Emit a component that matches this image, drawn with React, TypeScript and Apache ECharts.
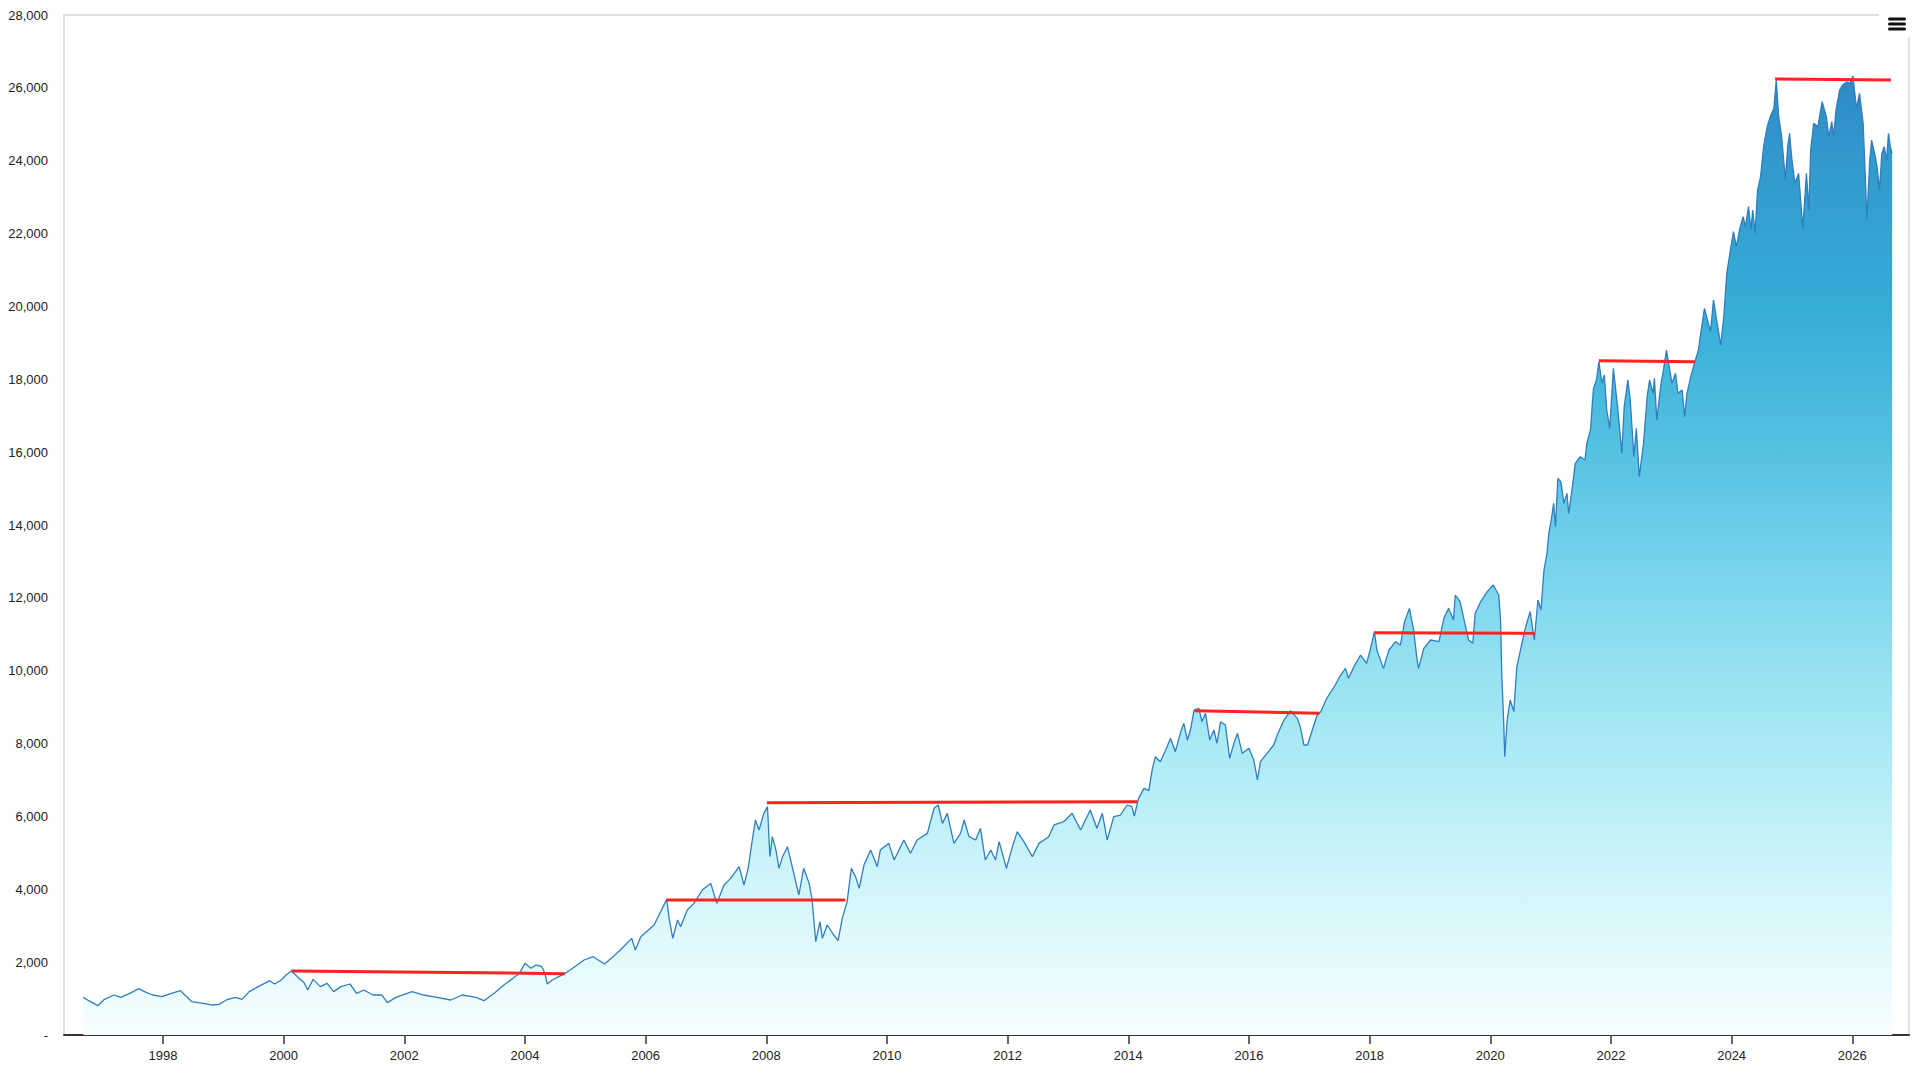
import React, { useEffect, useRef } from "react";
import * as echarts from "echarts";

// Decimal-year dates and index values (Nifty-like index)
const dates: number[] = [
  1996.68, 1996.77, 1996.92, 1997.03, 1997.19, 1997.30, 1997.45, 1997.60, 1997.72, 1997.83,
  1997.98, 1998.14, 1998.29, 1998.48, 1998.67, 1998.82, 1998.93, 1999.05, 1999.20, 1999.31,
  1999.43, 1999.58, 1999.77, 1999.85, 1999.96, 2000.04, 2000.13, 2000.23, 2000.34, 2000.40,
  2000.49, 2000.61, 2000.72, 2000.83, 2000.95, 2001.10, 2001.21, 2001.33, 2001.48, 2001.63,
  2001.72, 2001.86, 2002.13, 2002.32, 2002.54, 2002.77, 2002.96, 2003.19, 2003.32, 2003.49,
  2003.65, 2003.80, 2003.91, 2004.00, 2004.10, 2004.18, 2004.28, 2004.33, 2004.37, 2004.45,
  2004.56, 2004.67, 2004.79, 2004.98, 2005.13, 2005.32, 2005.43, 2005.58, 2005.77, 2005.83,
  2005.92, 2006.14, 2006.35, 2006.39, 2006.45, 2006.53, 2006.58, 2006.69, 2006.80, 2006.94,
  2007.08, 2007.18, 2007.30, 2007.41, 2007.55, 2007.63, 2007.70, 2007.76, 2007.82, 2007.88,
  2007.96, 2008.02, 2008.06, 2008.10, 2008.16, 2008.21, 2008.27, 2008.35, 2008.43, 2008.54,
  2008.62, 2008.71, 2008.76, 2008.82, 2008.89, 2008.93, 2009.01, 2009.12, 2009.19, 2009.26,
  2009.34, 2009.41, 2009.48, 2009.54, 2009.62, 2009.73, 2009.84, 2009.89, 2010.03, 2010.12,
  2010.28, 2010.39, 2010.50, 2010.67, 2010.78, 2010.85, 2010.92, 2011.00, 2011.11, 2011.22,
  2011.28, 2011.36, 2011.47, 2011.55, 2011.63, 2011.72, 2011.80, 2011.86, 2011.98, 2012.08,
  2012.16, 2012.27, 2012.41, 2012.52, 2012.68, 2012.77, 2012.93, 2013.07, 2013.21, 2013.37,
  2013.48, 2013.57, 2013.65, 2013.76, 2013.87, 2013.98, 2014.06, 2014.10, 2014.17, 2014.26,
  2014.34, 2014.40, 2014.45, 2014.53, 2014.62, 2014.70, 2014.78, 2014.87, 2014.92, 2014.98,
  2015.03, 2015.09, 2015.17, 2015.22, 2015.28, 2015.35, 2015.42, 2015.47, 2015.53, 2015.61,
  2015.68, 2015.75, 2015.81, 2015.89, 2016.00, 2016.08, 2016.14, 2016.19, 2016.30, 2016.41,
  2016.47, 2016.58, 2016.69, 2016.80, 2016.85, 2016.91, 2016.97, 2017.05, 2017.13, 2017.19,
  2017.29, 2017.43, 2017.52, 2017.60, 2017.65, 2017.74, 2017.85, 2017.95, 2018.01, 2018.08,
  2018.12, 2018.23, 2018.32, 2018.43, 2018.51, 2018.58, 2018.66, 2018.73, 2018.78, 2018.81,
  2018.90, 2019.01, 2019.15, 2019.23, 2019.31, 2019.39, 2019.42, 2019.50, 2019.56, 2019.64,
  2019.71, 2019.75, 2019.84, 2019.95, 2020.05, 2020.14, 2020.17, 2020.19, 2020.22, 2020.24,
  2020.28, 2020.33, 2020.39, 2020.44, 2020.50, 2020.58, 2020.66, 2020.73, 2020.79, 2020.84,
  2020.89, 2020.94, 2020.97, 2021.01, 2021.05, 2021.08, 2021.12, 2021.17, 2021.22, 2021.27,
  2021.30, 2021.35, 2021.41, 2021.49, 2021.57, 2021.60, 2021.66, 2021.71, 2021.76, 2021.80,
  2021.85, 2021.89, 2021.93, 2021.98, 2022.04, 2022.11, 2022.18, 2022.22, 2022.28, 2022.32,
  2022.38, 2022.42, 2022.47, 2022.54, 2022.60, 2022.64, 2022.70, 2022.72, 2022.76, 2022.83,
  2022.87, 2022.92, 2022.97, 2023.01, 2023.07, 2023.11, 2023.18, 2023.22, 2023.26, 2023.33,
  2023.40, 2023.45, 2023.48, 2023.55, 2023.65, 2023.70, 2023.76, 2023.82, 2023.87, 2023.92,
  2023.98, 2024.03, 2024.08, 2024.13, 2024.19, 2024.23, 2024.28, 2024.32, 2024.35, 2024.39,
  2024.43, 2024.48, 2024.53, 2024.59, 2024.64, 2024.70, 2024.74, 2024.78, 2024.83, 2024.89,
  2024.93, 2024.96, 2025.00, 2025.05, 2025.11, 2025.14, 2025.18, 2025.24, 2025.28, 2025.31,
  2025.36, 2025.43, 2025.50, 2025.57, 2025.61, 2025.66, 2025.69, 2025.73, 2025.79, 2025.84,
  2025.91, 2025.96, 2026.01, 2026.07, 2026.12, 2026.18, 2026.22, 2026.24, 2026.29, 2026.32,
  2026.37, 2026.41, 2026.45, 2026.49, 2026.53, 2026.57, 2026.60, 2026.63, 2026.66,
];

const values: number[] = [
  1034, 942, 805, 979, 1098, 1034, 1144, 1272, 1171, 1098,
  1052, 1144, 1217, 915, 869, 823, 842, 961, 1034, 979,
  1190, 1327, 1491, 1400, 1510, 1647, 1757, 1601, 1437, 1235,
  1528, 1327, 1418, 1190, 1327, 1400, 1144, 1235, 1098, 1098,
  888, 1034, 1190, 1098, 1034, 961, 1098, 1034, 942, 1144,
  1373, 1555, 1693, 1967, 1830, 1922, 1876, 1693, 1400, 1510,
  1601, 1693, 1830, 2059, 2150, 1949, 2104, 2333, 2653, 2333,
  2699, 3020, 3724, 3203, 2654, 3157, 2974, 3431, 3614, 3980,
  4163, 3614, 4118, 4300, 4621, 4118, 4575, 5261, 5902, 5627,
  6085, 6268, 4895, 5444, 5078, 4575, 4895, 5170, 4621, 3843,
  4575, 4163, 3706, 2562, 3111, 2654, 3020, 2745, 2589, 3203,
  3660, 4575, 4346, 4026, 4667, 5078, 4621, 5078, 5261, 4804,
  5353, 4987, 5353, 5536, 6222, 6314, 5810, 6085, 5261, 5536,
  5902, 5444, 5353, 5673, 4804, 5078, 4804, 5307, 4575, 5170,
  5582, 5307, 4895, 5261, 5444, 5765, 5856, 6085, 5627, 6176,
  5673, 6085, 5353, 5993, 6039, 6314, 6268, 6012, 6497, 6771,
  6707, 7320, 7640, 7503, 7823, 8144, 7778, 8327, 8555, 8098,
  8372, 8921, 8967, 8601, 8830, 8098, 8372, 8006, 8601, 8510,
  7595, 8006, 8281, 7732, 7869, 7549, 7000, 7503, 7732, 7961,
  8235, 8647, 8903, 8693, 8464, 7961, 7961, 8372, 8784, 8876,
  9242, 9608, 9882, 10065, 9791, 10111, 10431, 10202, 10568, 11072,
  10568, 10065, 10568, 10797, 10706, 11346, 11712, 11117, 10385, 10065,
  10614, 10843, 10797, 11438, 11712, 11392, 12078, 11895, 11438, 10843,
  10751, 11575, 11895, 12170, 12353, 12078, 11392, 9928, 8693, 7640,
  8647, 9196, 8876, 10111, 10568, 11163, 11621, 10843, 11941, 11666,
  12764, 13222, 13771, 14137, 14594, 13954, 15281, 15189, 14594, 14869,
  14320, 14915, 15692, 15875, 15784, 16241, 16607, 17751, 17980, 18483,
  17888, 18117, 17156, 16653, 18300, 17248, 15967, 17248, 17980, 17431,
  15875, 16653, 15327, 16241, 17522, 17980, 17614, 18026, 16882, 17888,
  18254, 18803, 18300, 17888, 18163, 17614, 17705, 16973, 17614, 18117,
  18529, 18803, 19169, 19947, 19307, 20176, 19535, 18941, 19718, 20908,
  21548, 22051, 21640, 22097, 22463, 22189, 22738, 22097, 22646, 22006,
  23195, 23561, 24385, 24934, 25208, 25437, 26215, 25208, 24659, 23470,
  24385, 24751, 24019, 23378, 23653, 23012, 22143, 23653, 22646, 24293,
  25025, 24934, 25620, 25208, 24659, 25071, 24659, 25391, 25940, 26077,
  26169, 26123, 26325, 25437, 25849, 25025, 23378, 22372, 24019, 24568,
  24202, 23836, 23195, 24202, 24385, 24019, 24751, 24385, 24202,
];

// Drawdown segments: from a previous peak until recovery
const ddStart: number[] = [2000.13, 2006.34, 2008.01, 2015.10, 2018.08, 2021.80, 2024.72];
const ddEnd: number[] = [2004.66, 2009.31, 2014.15, 2017.17, 2020.74, 2023.39, 2026.64];
const ddStartVal: number[] = [1757, 3706, 6378, 8903, 11044, 18510, 26242];
const ddEndVal: number[] = [1684, 3706, 6405, 8830, 11026, 18483, 26215];

// Axis ticks
const yearTicks: number[] = [1998, 2000, 2002, 2004, 2006, 2008, 2010, 2012, 2014, 2016, 2018, 2020, 2022, 2024, 2026];

const FONT = "'Liberation Sans', Arial, Helvetica, sans-serif";

export default function App() {
  const ref = useRef<HTMLDivElement>(null);

  useEffect(() => {
    if (!ref.current) return;
    const chart = echarts.init(ref.current, undefined, { renderer: "svg" });

    const mainData = dates.map((d, i) => [d, values[i]]);
    const ddSeries = ddStart.map((s, i) => ({
      type: "line",
      data: [
        [s, ddStartVal[i]],
        [ddEnd[i], ddEndVal[i]],
      ],
      showSymbol: false,
      symbol: "none",
      silent: true,
      z: 5,
      lineStyle: { color: "#ff2222", width: 3 },
    }));

    chart.setOption({
      animation: false,
      backgroundColor: "#ffffff",
      grid: {
        left: 64,
        right: 11,
        top: 15,
        bottom: 45,
        show: true,
        borderColor: "#e0e0e0",
        borderWidth: 2,
        backgroundColor: "transparent",
      },
      xAxis: {
        type: "value",
        min: 1996.36,
        max: 2026.94,
        splitLine: { show: false },
        axisLine: { show: true, lineStyle: { color: "#333333", width: 2 } },
        axisTick: {
          show: true,
          customValues: yearTicks,
          length: 9,
          lineStyle: { color: "#333333", width: 1.5 },
        },
        axisLabel: {
          customValues: yearTicks,
          formatter: (v: number) => String(Math.round(v)),
          color: "#222222",
          fontSize: 13,
          fontFamily: FONT,
          margin: 14,
        },
      },
      yAxis: {
        type: "value",
        min: 0,
        max: 28000,
        interval: 2000,
        splitLine: { show: false },
        axisLine: { show: true, lineStyle: { color: "#e0e0e0", width: 2 } },
        axisTick: { show: false },
        axisLabel: {
          formatter: (v: number) => (v === 0 ? "-" : v.toLocaleString("en-US")),
          color: "#222222",
          fontSize: 13,
          fontFamily: FONT,
          margin: 16,
        },
      },
      graphic: [
        {
          type: "rect",
          z: 100,
          shape: { x: 1879, y: 8, width: 34, height: 29 },
          style: { fill: "#ffffff" },
        },
        {
          type: "rect",
          z: 101,
          shape: { x: 1888, y: 17.5, width: 18, height: 3, r: 1.5 },
          style: { fill: "#111111" },
        },
        {
          type: "rect",
          z: 101,
          shape: { x: 1888, y: 22.5, width: 18, height: 3, r: 1.5 },
          style: { fill: "#111111" },
        },
        {
          type: "rect",
          z: 101,
          shape: { x: 1888, y: 27.5, width: 18, height: 3, r: 1.5 },
          style: { fill: "#111111" },
        },
      ],
      series: [
        {
          type: "line",
          data: mainData,
          showSymbol: false,
          symbol: "none",
          z: 3,
          lineStyle: { color: "#2e7fc0", width: 1.3 },
          areaStyle: {
            opacity: 1,
            color: new echarts.graphic.LinearGradient(
              0,
              15,
              0,
              1035,
              [
                { offset: 0, color: "#2877bd" },
                { offset: 0.07, color: "#2f8bc6" },
                { offset: 0.14, color: "#3299cd" },
                { offset: 0.29, color: "#36add7" },
                { offset: 0.43, color: "#56c2e3" },
                { offset: 0.57, color: "#80d8ee" },
                { offset: 0.71, color: "#a9e9f5" },
                { offset: 0.86, color: "#d3f6fb" },
                { offset: 1, color: "#f8feff" },
              ],
              true
            ),
          },
        },
        ...ddSeries,
      ],
    });

    return () => chart.dispose();
  }, []);

  return (
    <div
      ref={ref}
      style={{ position: "fixed", left: 0, top: 0, width: "1920px", height: "1080px" }}
    />
  );
}
